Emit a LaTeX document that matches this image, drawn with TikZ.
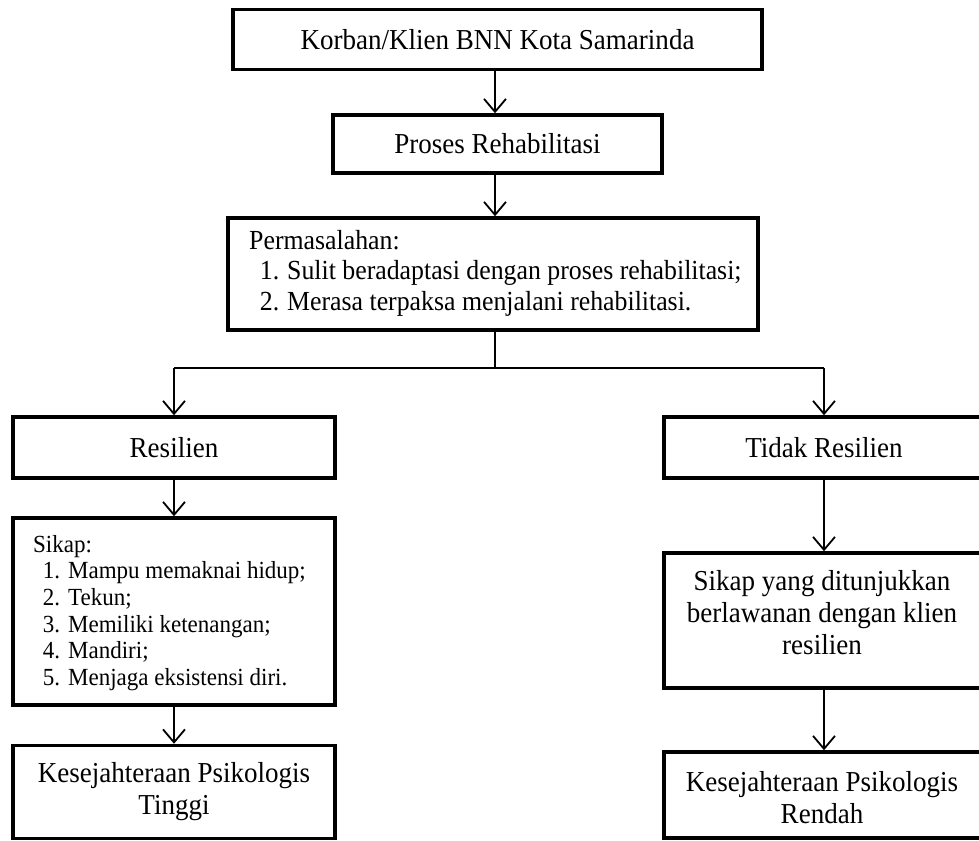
\documentclass[tikz,border=0pt]{standalone}
\usepackage{fontspec}
\setmainfont[FakeStretch=0.935]{Liberation Serif}
\usetikzlibrary{arrows.meta}
\newcommand{\bigtxt}{\fontsize{28.9}{32}\selectfont}
\newcommand{\midtxt}{\fontsize{27.6}{30.5}\selectfont}
\newcommand{\smltxt}{\fontsize{24.6}{26.6}\selectfont}
\newcommand{\litem}[3]{\makebox[#1][r]{#2}\hspace{8pt}#3}
\begin{document}
\begin{tikzpicture}[x=1pt,y=-1pt,
  box/.style={draw, line width=3.5pt, inner sep=0pt, rectangle, align=center, font=\bigtxt},
  txt/.style={inner sep=0pt, align=left},
  arr/.style={line width=1.8pt, -{Straight Barb[length=13pt,width=22pt]}},
  ln/.style={line width=1.8pt}]
\useasboundingbox (0,0) rectangle (979,840);
\clip (0,0) rectangle (979,840);
\fill[white] (0,0) rectangle (979,840);

\coordinate (spine) at (495,0);
\coordinate (lcol) at (174,0);
\coordinate (rcol) at (824,0);

\node[box, minimum width=529pt, minimum height=60pt] (b1) at (497.5,39.5) {Korban/Klien BNN Kota Samarinda};
\node[box, minimum width=329pt, minimum height=58pt] (b2) at (497.5,144) {Proses Rehabilitasi};
\node[box, minimum width=530pt, minimum height=112pt] (b3) at (493,274) {};
\node[txt, font=\midtxt, anchor=west] (b3t) at (249,273)
  {Permasalahan:\\
   \litem{30pt}{1.}{Sulit beradaptasi dengan proses rehabilitasi;}\\
   \litem{30pt}{2.}{Merasa terpaksa menjalani rehabilitasi.}};

\coordinate (split) at (495,368);

\node[box, minimum width=322pt, minimum height=61pt] (res) at (174,447.5) {Resilien};
\node[box, minimum width=322pt, minimum height=187pt] (sik) at (174,611.5) {};
\node[txt, font=\smltxt, anchor=west] (sikt) at (33,613)
  {Sikap:\\
   \litem{27pt}{1.}{Mampu memaknai hidup;}\\
   \litem{27pt}{2.}{Tekun;}\\
   \litem{27pt}{3.}{Memiliki ketenangan;}\\
   \litem{27pt}{4.}{Mandiri;}\\
   \litem{27pt}{5.}{Menjaga eksistensi diri.}};
\node[box, minimum width=322pt, minimum height=93pt] (kt) at (174,792) {Kesejahteraan Psikologis\\ Tinggi};

\node[box, minimum width=320pt, minimum height=61pt] (tres) at (824,447.5) {Tidak Resilien};
\node[box, minimum width=320pt, minimum height=135pt] (sy) at (824,620.5) {};
\node[align=center, inner sep=0pt, font=\bigtxt] (syt) at (822,613) {Sikap yang ditunjukkan\\ berlawanan dengan klien\\ resilien};
\node[box, minimum width=320pt, minimum height=86pt] (kr) at (824,795) {};
\node[align=center, inner sep=0pt, font=\bigtxt] (krt) at (822,798) {Kesejahteraan Psikologis\\ Rendah};

\draw[arr] (b1.south -| spine) -- (b2.north -| spine);
\draw[arr] (b2.south -| spine) -- (b3.north -| spine);
\draw[ln] (b3.south -| spine) -- (split);
\draw[line width=1.5pt] (split -| lcol) -- (split -| rcol);
\draw[arr] (split -| lcol) -- (res.north);
\draw[arr] (split -| rcol) -- (tres.north);
\draw[arr] (res.south) -- (sik.north);
\draw[arr] (sik.south) -- (kt.north);
\draw[arr] (tres.south) -- (sy.north);
\draw[arr] (sy.south) -- (kr.north);
\end{tikzpicture}
\end{document}
